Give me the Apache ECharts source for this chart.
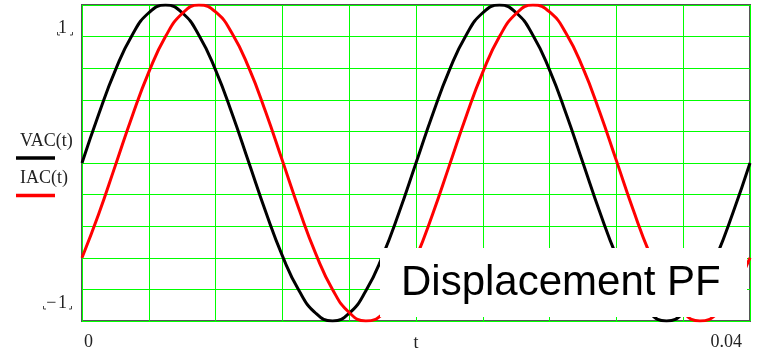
<!DOCTYPE html>
<html><head><meta charset="utf-8">
<script src="https://cdn.jsdelivr.net/npm/echarts@6/dist/echarts.min.js"></script>
<style>html,body{margin:0;padding:0;background:#fff}#c{width:757px;height:353px}</style>
</head><body><div id="c"></div>
<script>
// time samples (s)
const tValues = [0,0.001,0.002,0.003,0.004,0.005,0.006,0.007,0.008,0.009,
  0.010,0.011,0.012,0.013,0.014,0.015,0.016,0.017,0.018,0.019,
  0.020,0.021,0.022,0.023,0.024,0.025,0.026,0.027,0.028,0.029,
  0.030,0.031,0.032,0.033,0.034,0.035,0.036,0.037,0.038,0.039,0.040];
// VAC(t)
const vac = [0,0.309,0.588,0.809,0.951,1,0.951,0.809,0.588,0.309,
  0,-0.309,-0.588,-0.809,-0.951,-1,-0.951,-0.809,-0.588,-0.309,
  0,0.309,0.588,0.809,0.951,1,0.951,0.809,0.588,0.309,
  0,-0.309,-0.588,-0.809,-0.951,-1,-0.951,-0.809,-0.588,-0.309,0];
// IAC(t)
const iac = [-0.600,-0.323,-0.015,0.295,0.575,0.800,0.946,1.000,0.956,0.818,
  0.600,0.323,0.015,-0.295,-0.575,-0.800,-0.946,-1.000,-0.956,-0.818,
  -0.600,-0.323,-0.015,0.295,0.575,0.800,0.946,1.000,0.956,0.818,
  0.600,0.323,0.015,-0.295,-0.575,-0.800,-0.946,-1.000,-0.956,-0.818,-0.600];
const seriesNames = ['VAC(t)', 'IAC(t)'];
const xAxisName = 't';
const xMinLabel = '0', xMaxLabel = '0.04';
const yMinLabel = '\u2212\u200a1', yMaxLabel = '1';
const annotation = 'Displacement PF';

const serif = '"Liberation Serif", "Times New Roman", serif';
const chart = echarts.init(document.getElementById('c'), null, {renderer: 'canvas'});
const pairs = (ys) => tValues.map((t, i) => [t, ys[i]]);

chart.setOption({
  animation: false,
  backgroundColor: '#fff',
  grid: {left: 82, right: 7, top: 5, bottom: 32, containLabel: false, outerBoundsMode: 'none',
         show: true, borderColor: '#555', borderWidth: 2, backgroundColor: 'transparent'},
  xAxis: {
    type: 'value', min: 0, max: 0.04, interval: 0.004,
    name: xAxisName, nameLocation: 'middle', nameGap: 13, nameMoveOverlap: false,
    nameTextStyle: {fontFamily: serif, fontSize: 18, color: '#222', verticalAlign: 'top'},
    axisLine: {show: false}, axisTick: {show: false},
    splitLine: {show: true, lineStyle: {color: '#00ff00', width: 1}},
    axisLabel: {
      margin: 12, fontFamily: serif, fontSize: 18, color: '#222',
      showMinLabel: true, showMaxLabel: true,
      alignMinLabel: 'left', alignMaxLabel: 'right',
      formatter: function (v) {
        if (Math.abs(v) < 1e-9) return '{a|' + xMinLabel + '}';
        if (Math.abs(v - 0.04) < 1e-9) return '{b|' + xMaxLabel + '}';
        return '';
      },
      rich: {
        a: {fontFamily: serif, fontSize: 18, color: '#222', padding: [0, 0, 0, 2]},
        b: {fontFamily: serif, fontSize: 18, color: '#222', padding: [0, 8, 0, 0]}
      }
    }
  },
  yAxis: {
    type: 'value', min: -1, max: 1, interval: 0.2,
    axisLine: {show: false}, axisTick: {show: false},
    splitLine: {show: true, lineStyle: {color: '#00ff00', width: 1}},
    axisLabel: {
      margin: 15, fontFamily: serif, fontSize: 18, color: '#222',
      formatter: function (v) {
        if (Math.abs(v - 1) < 1e-9) return '{t|' + yMaxLabel + '}';
        if (Math.abs(v + 1) < 1e-9) return '{m|' + yMinLabel + '}';
        return '';
      },
      rich: {
        t: {fontFamily: serif, fontSize: 18, color: '#222', padding: [46, 0, 0, 0]},
        m: {fontFamily: serif, fontSize: 18, color: '#222', padding: [0, 0, 35, 0]}
      }
    }
  },
  series: [
    {name: seriesNames[0], type: 'line', data: pairs(vac), smooth: true, showSymbol: false,
     lineStyle: {color: '#000', width: 3}, itemStyle: {color: '#000'}, z: 3},
    {name: seriesNames[1], type: 'line', data: pairs(iac), smooth: true, showSymbol: false,
     lineStyle: {color: '#ff0000', width: 3}, itemStyle: {color: '#ff0000'}, z: 4}
  ],
  graphic: [
    // legend (Mathcad style: name above line sample)
    {type: 'text', z: 50, style: {x: 20, y: 141, text: seriesNames[0], font: '18px ' + serif, fill: '#222', textVerticalAlign: 'middle'}},
    {type: 'line', z: 50, shape: {x1: 16, y1: 158, x2: 55, y2: 158}, style: {stroke: '#000', lineWidth: 3.5}},
    {type: 'text', z: 50, style: {x: 20, y: 178, text: seriesNames[1], font: '18px ' + serif, fill: '#222', textVerticalAlign: 'middle'}},
    {type: 'line', z: 50, shape: {x1: 16, y1: 195.5, x2: 55, y2: 195.5}, style: {stroke: '#ff0000', lineWidth: 3.5}},
    // placeholder corner marks around axis limits
    {type: 'polyline', z: 50, shape: {points: [[57.5, 32], [57.5, 35], [60, 35]]}, style: {stroke: '#444', lineWidth: 1, fill: null}},
    {type: 'polyline', z: 50, shape: {points: [[70, 35], [72.5, 35], [72.5, 32]]}, style: {stroke: '#444', lineWidth: 1, fill: null}},
    {type: 'polyline', z: 50, shape: {points: [[43.5, 306], [43.5, 309], [46, 309]]}, style: {stroke: '#444', lineWidth: 1, fill: null}},
    {type: 'polyline', z: 50, shape: {points: [[69, 309], [71.5, 309], [71.5, 306]]}, style: {stroke: '#444', lineWidth: 1, fill: null}},
    // annotation box
    {type: 'rect', z: 60, shape: {x: 380, y: 248, width: 367, height: 69}, style: {fill: '#fff'}},
    {type: 'text', z: 61, style: {x: 401, y: 283, text: annotation, font: '42px "Liberation Sans", Arial, sans-serif', fill: '#000', textVerticalAlign: 'middle'}}
  ]
});
</script></body></html>
